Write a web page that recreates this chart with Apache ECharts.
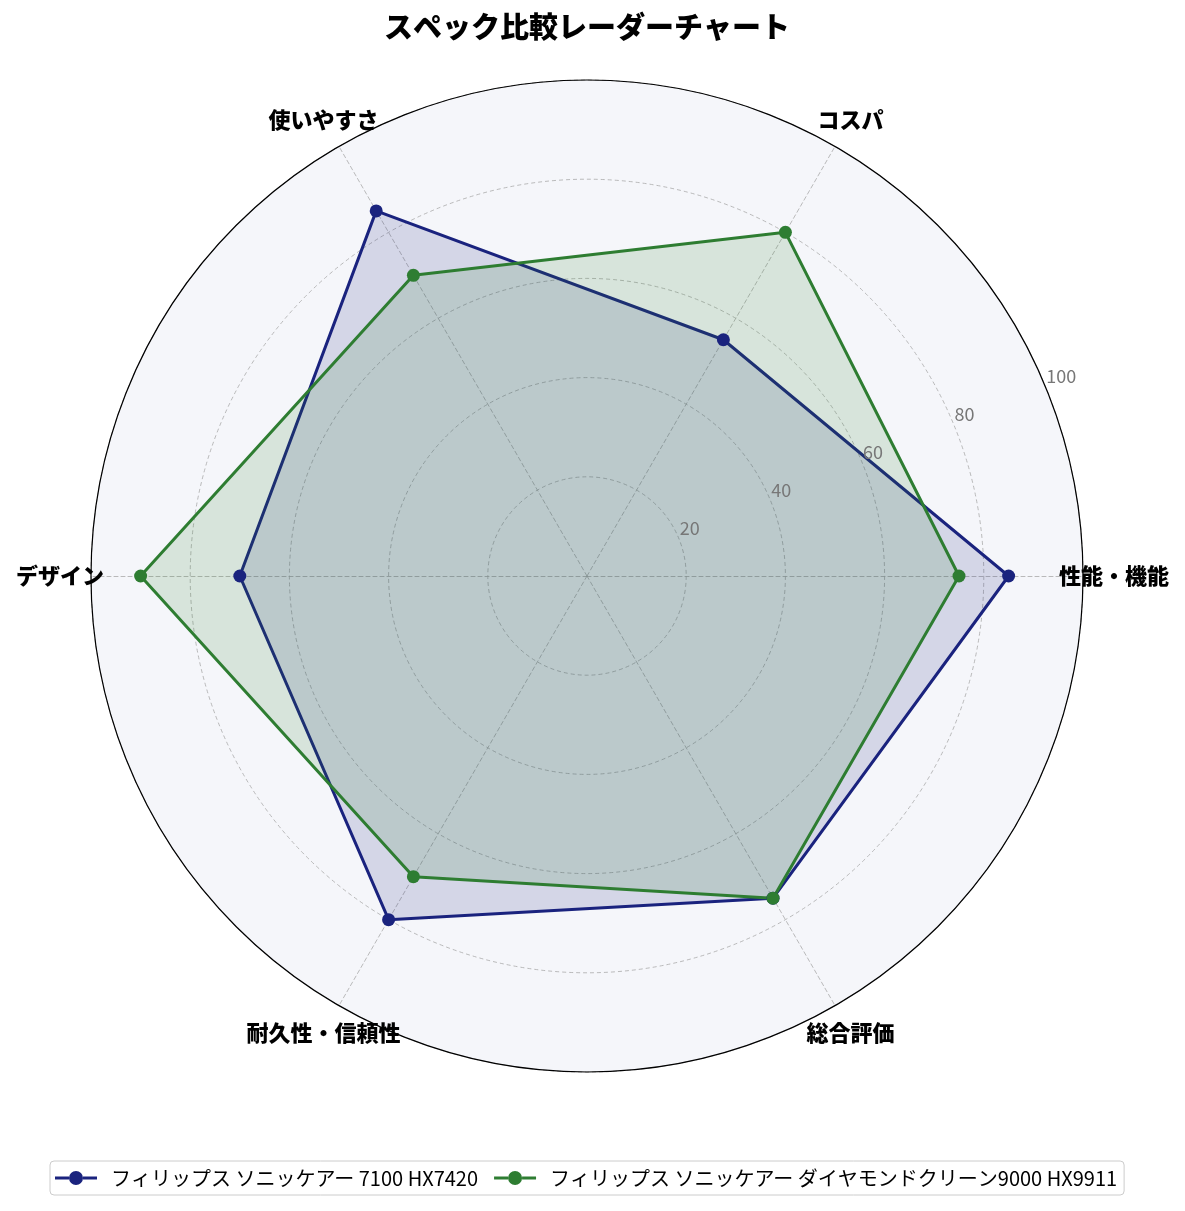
<!DOCTYPE html>
<html>
<head>
<meta charset="utf-8">
<title>スペック比較レーダーチャート</title>
<script src="https://cdn.jsdelivr.net/npm/echarts@6/dist/echarts.min.js"></script>
<style>
  html, body { margin: 0; padding: 0; background: #fff; }
  #main { width: 1185px; height: 1211px; }
</style>
</head>
<body>
<div id="main"></div>
<script>
var indicators = ['性能・機能', 'コスパ', '使いやすさ', 'デザイン', '耐久性・信頼性', '総合評価'];
var seriesNames = ['フィリップス ソニッケアー 7100 HX7420', 'フィリップス ソニッケアー ダイヤモンドクリーン9000 HX9911'];
var hx7420 = [85, 55, 85, 70, 80, 75];
var hx9911 = [75, 80, 70, 90, 70, 75];
var colors = ['#1a237e', '#2e7d32'];

var font = '"Noto Sans CJK JP", "Noto Sans", sans-serif';
var cx = 587, cy = 576, r = 496;

// line + circle marker for the legend icon
var legendIcon = 'path://M0,5.5 L14,5.5 L14,8.5 L0,8.5 Z M28,5.5 L42,5.5 L42,8.5 L28,8.5 Z ' +
  'M14,7 A7,7 0 1,1 28,7 A7,7 0 1,1 14,7 Z';

var myChart = echarts.init(document.getElementById('main'));

var nameData = indicators.map(function (n, i) {
  return { value: [1, i * 360 / indicators.length], name: n };
});

var option = {
  backgroundColor: '#fff',
  textStyle: { fontFamily: font },
  title: {
    text: 'スペック比較レーダーチャート',
    left: cx - 5,   // title padding pushes it 5px right
    textAlign: 'center',
    top: 7,
    textStyle: { fontSize: 29, fontWeight: 900, color: '#000', fontFamily: font }
  },
  legend: {
    data: seriesNames.map(function (n) { return { name: n, icon: legendIcon }; }),
    top: 1161,
    left: 50,
    itemWidth: 42,
    itemHeight: 14,
    itemGap: 16,
    padding: [7, 7, 7, 5],
    borderColor: '#cccccc',
    borderWidth: 1,
    borderRadius: 4,
    textStyle: { fontSize: 20, color: '#000', fontFamily: font, padding: [0, 0, 0, 9] }
  },
  radar: {
    center: [cx, cy],
    radius: r,
    startAngle: 0,
    shape: 'circle',
    splitNumber: 5,
    indicator: indicators.map(function (n) { return { name: n, max: 100, min: 0 }; }),
    axisName: { show: false },
    splitArea: { show: true, areaStyle: { color: ['#f5f6fa'] } },
    splitLine: { lineStyle: { color: '#aaaaaa', width: 0.8, type: [4, 3] } },
    axisLine: { lineStyle: { color: '#aaaaaa', width: 0.8, type: [4, 3] } }
  },
  polar: [
    { center: [cx, cy], radius: r + 31 },
    { center: [cx, cy], radius: r }
  ],
  angleAxis: [
    {
      polarIndex: 0, type: 'value', min: 0, max: 360, startAngle: 0, clockwise: false,
      axisLine: { show: false }, axisTick: { show: false }, axisLabel: { show: false }, splitLine: { show: false }
    },
    {
      polarIndex: 1, type: 'value', min: 0, max: 360, startAngle: 22.5, clockwise: false, z: 3,
      axisLine: { show: true, lineStyle: { color: '#000', width: 1.2 } },
      axisTick: { show: false }, axisLabel: { show: false }, splitLine: { show: false }
    }
  ],
  radiusAxis: [
    {
      polarIndex: 0, type: 'value', min: 0, max: 1,
      axisLine: { show: false }, axisTick: { show: false }, axisLabel: { show: false }, splitLine: { show: false }
    },
    {
      polarIndex: 1, type: 'value', min: 0, max: 100, interval: 20, z: 3,
      axisLine: { show: false }, axisTick: { show: false }, splitLine: { show: false },
      axisLabel: {
        show: true, showMinLabel: false, margin: 0,
        align: 'left', verticalAlign: 'bottom',
        color: '#777777', fontSize: 18, fontFamily: font, padding: [0, 0, 1, 1]
      }
    }
  ],
  series: [
    {
      name: seriesNames[0],
      type: 'radar',
      symbol: 'circle',
      symbolSize: 13,
      itemStyle: { color: colors[0] },
      lineStyle: { color: colors[0], width: 3 },
      areaStyle: { color: colors[0], opacity: 0.15 },
      data: [{ value: hx7420, name: seriesNames[0] }]
    },
    {
      name: seriesNames[1],
      type: 'radar',
      symbol: 'circle',
      symbolSize: 13,
      itemStyle: { color: colors[1] },
      lineStyle: { color: colors[1], width: 3 },
      areaStyle: { color: colors[1], opacity: 0.15 },
      data: [{ value: hx9911, name: seriesNames[1] }]
    },
    {
      type: 'scatter',
      coordinateSystem: 'polar',
      polarIndex: 0,
      symbolSize: 0,
      clip: false,
      silent: true,
      itemStyle: { opacity: 1 },
      label: {
        show: true,
        position: 'inside',
        formatter: function (p) { return p.name; },
        fontSize: 22,
        fontWeight: 900,
        color: '#000',
        opacity: 1,
        fontFamily: font
      },
      data: nameData
    }
  ]
};
myChart.setOption(option);
</script>
</body>
</html>
